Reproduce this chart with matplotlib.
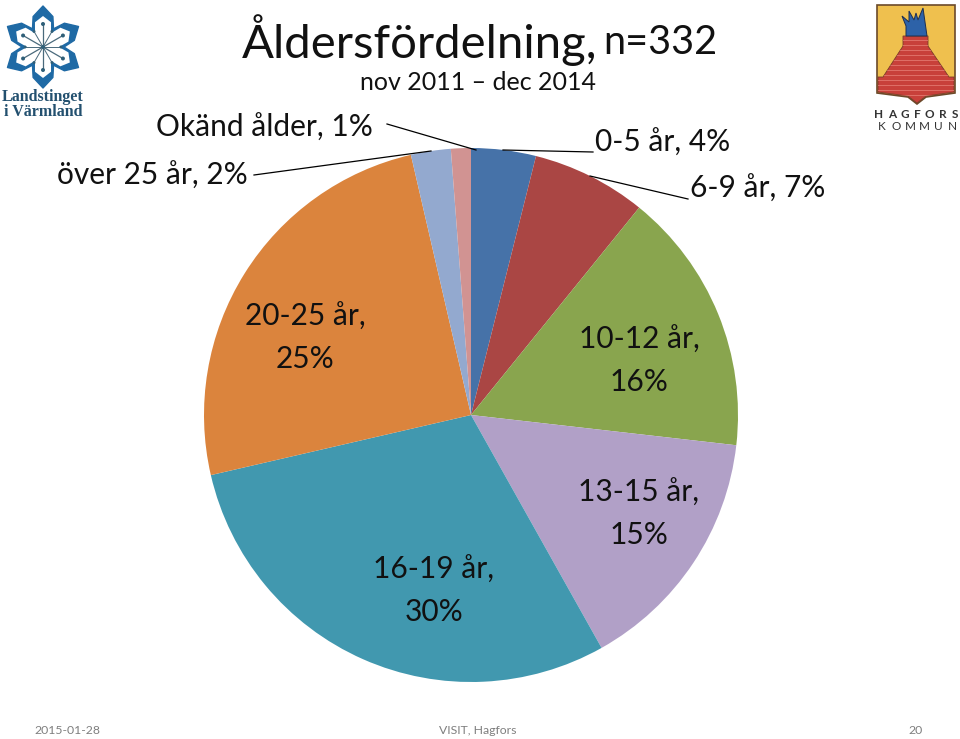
import numpy as np
import matplotlib
matplotlib.use("Agg")
import matplotlib.pyplot as plt
from matplotlib.patches import Polygon, Circle

plt.rcParams['font.family'] = ['Lato', 'DejaVu Sans']

# age groups (counts sum to n=332)
categories = ['0-5 år', '6-9 år', '10-12 år', '13-15 år', '16-19 år', '20-25 år', 'över 25 år', 'Okänd ålder']
counts = [13, 23, 53, 50, 98, 83, 8, 4]
percent_labels = ['4%', '7%', '16%', '15%', '30%', '25%', '2%', '1%']
colors = ['#4672A8', '#AA4644', '#89A54E', '#B1A0C7', '#4198AF', '#DB843D', '#93A9CF', '#D19392']

W, H = 960, 739


def py(y):
    # the picture is measured from the top
    return H - y


def flower(cx, cy, tip, shoulder, notch):
    pts = []
    for k in range(6):
        a = np.pi / 2 + k * np.pi / 3
        for off, r in [(-np.pi / 6, notch), (-np.pi / 10, shoulder), (0, tip), (np.pi / 10, shoulder)]:
            pts.append((cx + r * np.cos(a + off), cy + r * np.sin(a + off)))
    return pts


def draw_left_logo(ax):
    cx, cy = 43, py(47)
    ax.add_patch(Polygon(flower(cx, cy, 41, 32, 21), fc='#1F6AA5', ec='#1F6AA5', lw=1, joinstyle='round', zorder=3))
    ax.add_patch(Polygon(flower(cx, cy, 31, 26, 16), fc='white', ec='none', zorder=4))
    for k in range(6):
        a = np.pi / 2 + k * np.pi / 3
        x1, y1 = cx + 23 * np.cos(a), cy + 23 * np.sin(a)
        ax.plot([cx, x1], [cy, y1], color='#4A6A7C', lw=0.9, zorder=5)
        ax.add_patch(Circle((x1, y1), 2, fc='#2F5F78', ec='none', zorder=5))
        x2, y2 = cx + 18 * np.cos(a + np.pi / 6), cy + 18 * np.sin(a + np.pi / 6)
        ax.plot([cx, x2], [cy, y2], color='#4A6A7C', lw=0.7, zorder=5)
        ax.add_patch(Circle((x2, y2), 1.5, fc='#2F5F78', ec='none', zorder=5))
    ax.add_patch(Circle((cx, cy), 2, fc='#2F5F78', ec='none', zorder=5))
    ax.text(43, py(97), 'Landstinget', family='Liberation Serif', fontsize=11.5, weight='bold',
            color='#23506F', ha='center', va='center')
    ax.text(43, py(112), 'i Värmland', family='Liberation Serif', fontsize=11.5, weight='bold',
            color='#23506F', ha='center', va='center')


def draw_right_logo(ax):
    shield = [(877, 5), (955, 5), (955, 93), (926, 97), (917, 104), (908, 97), (877, 93)]
    ax.add_patch(Polygon([(x, py(y)) for x, y in shield], fc='#EFC04E', ec='#6B4A2A', lw=1.2, zorder=3))
    brick = [(878, 77), (883, 77), (903, 46), (903, 36), (928, 36), (928, 46), (949, 77), (954, 77),
             (954, 92), (926, 96), (917, 103), (908, 96), (878, 92)]
    red = Polygon([(x, py(y)) for x, y in brick], fc='#C8403A', ec='#7A3A2A', lw=0.6, zorder=4)
    ax.add_patch(red)
    # brick courses
    for y in range(40, 100, 5):
        line, = ax.plot([877, 955], [py(y), py(y)], color='#E8837A', lw=0.5, zorder=5)
        line.set_clip_path(red)
    flame = [(906, 36), (906, 26), (902, 16), (909, 22), (909, 11), (914, 20), (916, 13),
             (918, 20), (923, 8), (925, 22), (927, 36)]
    ax.add_patch(Polygon([(x, py(y)) for x, y in flame], fc='#2D62A8', ec='#1E2F50', lw=0.7, zorder=4))
    for word, y, x0, x1, weight in [('HAGFORS', 114, 879, 955, 'bold'), ('KOMMUN', 127, 882, 952, 'normal')]:
        for x, ch in zip(np.linspace(x0, x1, len(word)), word):
            ax.text(x, py(y), ch, fontsize=8.5, weight=weight, color='#333333', ha='center', va='center')


def main():
    fig = plt.figure(figsize=(W / 100, H / 100), dpi=100)
    ax = fig.add_axes([0, 0, 1, 1])

    ax.pie(counts, colors=colors, startangle=90, counterclock=False,
           center=(471, py(415)), radius=267, frame=True,
           wedgeprops={'edgecolor': 'none'})
    ax.set_xlim(0, W)
    ax.set_ylim(0, H)
    ax.set_aspect('equal')
    ax.axis('off')

    # title
    ax.text(242, py(40), 'Åldersfördelning,', fontsize=34, color='#111111', ha='left', va='center')
    ax.text(603, py(42), 'n=332', fontsize=28.5, color='#111111', ha='left', va='center')
    ax.text(478, py(83), 'nov 2011 – dec 2014', fontsize=18, color='#111111', ha='center', va='center')

    # labels
    lab = dict(fontsize=21.5, color='#111111', va='center', linespacing=1.6)
    ax.text(373, py(128), f'{categories[7]}, {percent_labels[7]}', ha='right', **lab)
    ax.text(248, py(176), f'{categories[6]}, {percent_labels[6]}', ha='right', **lab)
    ax.text(595, py(143), f'{categories[0]}, {percent_labels[0]}', ha='left', **lab)
    ax.text(690, py(189), f'{categories[1]}, {percent_labels[1]}', ha='left', **lab)
    ax.text(639, py(361), f'{categories[2]},\n{percent_labels[2]}', ha='center', multialignment='center', **lab)
    ax.text(639, py(514), f'{categories[3]},\n{percent_labels[3]}', ha='center', multialignment='center', **lab)
    ax.text(434, py(591), f'{categories[4]},\n{percent_labels[4]}', ha='center', multialignment='center', **lab)
    ax.text(305, py(338), f'{categories[5]},\n{percent_labels[5]}', ha='center', multialignment='center', **lab)

    # leader lines
    for x, y in [([387, 476], [124, 150]), ([254, 431], [175, 151]),
                 ([503, 593], [150, 152]), ([590, 688], [176, 199])]:
        ax.plot(x, [py(v) for v in y], color='black', lw=0.9, zorder=6)

    # footer
    foot = dict(fontsize=8.8, color='#7F7F7F', va='center')
    ax.text(34, py(731), '2015-01-28', ha='left', **foot)
    ax.text(478, py(731), 'VISIT, Hagfors', ha='center', **foot)
    ax.text(923, py(731), '20', ha='right', **foot)

    draw_left_logo(ax)
    draw_right_logo(ax)

    fig.savefig('out.png', dpi=100)
    plt.close(fig)


if __name__ == "__main__":
    main()
